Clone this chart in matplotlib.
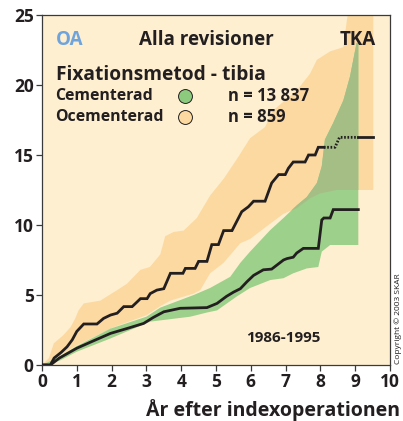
import matplotlib
matplotlib.use("Agg")
import matplotlib.pyplot as plt
import numpy as np

plt.rcParams['font.family'] = ['Open Sans', 'DejaVu Sans']

# Ocementerad (uncemented) - cumulative revision line
unc_x = [0, 0.24, 0.35, 0.55, 0.72, 0.87, 1.0, 1.2, 1.58, 1.77, 1.97, 2.16, 2.35, 2.59, 2.73, 2.83,
         3.02, 3.11, 3.3, 3.5, 3.69, 4.05, 4.12, 4.4, 4.5, 4.74, 4.88, 5.07, 5.22, 5.46, 5.74, 5.93,
         6.08, 6.41, 6.6, 6.8, 6.99, 7.08, 7.22, 7.56, 7.66, 7.85, 7.94, 8.1]
unc_y = [0, 0, 0.5, 0.9, 1.3, 1.8, 2.4, 2.93, 2.93, 3.33, 3.57, 3.7, 4.17, 4.17, 4.5, 4.74,
         4.74, 5.1, 5.35, 5.45, 6.55, 6.55, 6.9, 6.9, 7.4, 7.4, 8.6, 8.6, 9.6, 9.6, 10.95, 11.3,
         11.7, 11.7, 13.0, 13.6, 13.6, 14.05, 14.5, 14.5, 15.0, 15.0, 15.55, 15.55]
unc_dot_x = [8.1, 8.42, 8.55, 9.09]
unc_dot_y = [15.55, 15.55, 16.26, 16.26]
unc_end_x = [9.09, 9.52]
unc_end_y = [16.26, 16.26]

# Ocementerad confidence band
unc_up_x = [0, 0.2, 0.34, 0.6, 0.82, 0.95, 1.05, 1.2, 1.68, 1.87, 2.16, 2.44, 2.83, 3.1, 3.4, 3.54,
            3.78, 4.07, 4.45, 4.83, 5.22, 5.65, 5.98, 6.41, 6.65, 7.32, 7.7, 7.9, 8.28, 8.66, 8.76,
            8.85, 9.52]
unc_up_y = [0, 0.5, 1.55, 2.1, 2.7, 3.3, 3.9, 4.4, 4.6, 4.9, 5.35, 5.8, 6.8, 7.0, 7.9, 9.2,
            9.5, 9.6, 10.5, 12.1, 13.3, 14.9, 16.2, 17.0, 18.2, 19.6, 20.8, 21.8, 22.4, 22.7, 24.6,
            26.0, 26.0]
unc_lo_x = [0, 0.5, 1.0, 2.0, 3.0, 3.4, 3.69, 4.36, 4.55, 4.83, 5.22, 5.7, 5.98, 6.56, 6.94,
            7.32, 7.7, 7.99, 8.47, 9.52]
unc_lo_y = [0, 0.65, 1.4, 2.65, 3.55, 4.2, 4.6, 5.1, 5.35, 6.55, 7.3, 8.7, 9.0, 10.1, 10.8,
            11.2, 11.9, 12.26, 12.5, 12.5]

# Cementerad (cemented) line
cem_x = [0, 0.24, 0.5, 0.75, 1.0, 1.5, 1.97, 2.5, 2.92, 3.2, 3.5, 3.97, 4.74, 5.03, 5.3, 5.5,
         5.7, 5.89, 6.08, 6.36, 6.6, 6.94, 7.04, 7.22, 7.32, 7.51, 7.94, 8.04, 8.1, 8.28, 8.37, 9.09]
cem_y = [0, 0, 0.5, 0.85, 1.2, 1.75, 2.26, 2.65, 2.97, 3.4, 3.8, 4.05, 4.1, 4.4, 4.9, 5.2,
         5.45, 5.95, 6.4, 6.8, 6.85, 7.5, 7.6, 7.7, 8.0, 8.33, 8.33, 10.36, 10.5, 10.5, 11.1, 11.1]

# Cementerad confidence band
cem_up_x = [0, 0.5, 1, 1.97, 3.0, 3.4, 4.36, 4.83, 5.41, 5.7, 5.98, 6.56, 6.94, 7.32, 7.61,
            7.9, 8.04, 8.13, 8.37, 8.66, 8.85, 9.04, 9.09]
cem_up_y = [0, 0.6, 1.35, 2.6, 3.45, 4.1, 5.0, 5.5, 6.3, 7.3, 8.1, 9.64, 10.5, 11.4, 12.0,
            13.0, 14.2, 16.1, 17.3, 18.9, 20.6, 23.0, 23.0]
cem_lo_x = [0, 0.5, 1, 1.97, 3.11, 4.26, 4.74, 5.03, 5.6, 5.98, 6.56, 6.94, 7.22, 7.61, 7.94,
            8.04, 8.28, 9.09]
cem_lo_y = [0, 0.3, 0.95, 1.9, 3.1, 3.45, 3.75, 3.9, 4.9, 5.5, 6.07, 6.2, 6.55, 6.9, 7.0,
            8.1, 8.57, 8.57]

bg = '#FEEFD0'
orange = '#FDD9A2'
green = '#9DD08A'
olive = '#A5BE86'
ink = '#231F20'

fig = plt.figure(figsize=(4.03, 4.21), dpi=100)
ax = fig.add_axes([0.1042, 0.133, 0.8635, 0.8314])
ax.set_facecolor(bg)

unc_band = ax.fill(np.r_[unc_up_x, unc_lo_x[::-1]], np.r_[unc_up_y, unc_lo_y[::-1]],
                   color=orange, lw=0, zorder=1)[0]
cem_poly_x = np.r_[cem_up_x, cem_lo_x[::-1]]
cem_poly_y = np.r_[cem_up_y, cem_lo_y[::-1]]
ax.fill(cem_poly_x, cem_poly_y, color=green, lw=0, zorder=2)
overlap = ax.fill(cem_poly_x, cem_poly_y, color=olive, lw=0, zorder=3)[0]
overlap.set_clip_path(unc_band.get_path(), unc_band.get_transform())

ax.plot(unc_x, unc_y, color=ink, lw=2.0, zorder=5, solid_joinstyle='miter')
ax.plot(unc_dot_x, unc_dot_y, color=ink, lw=2.0, ls=(0, (0.6, 0.6)), zorder=5)
ax.plot(unc_end_x, unc_end_y, color=ink, lw=2.0, zorder=5)
ax.plot(cem_x, cem_y, color=ink, lw=2.0, zorder=5, solid_joinstyle='miter')

ax.set_xlim(0, 10)
ax.set_ylim(0, 25)
ax.set_xticks(range(0, 11))
ax.set_yticks(range(0, 26, 5))
for s in ax.spines.values():
    s.set_color('#3a3a3a')
    s.set_linewidth(0.9)
ax.tick_params(direction='out', length=4, width=0.9, color='#3a3a3a', labelcolor=ink,
               labelsize=12.5, pad=2)
for lab in ax.get_xticklabels() + ax.get_yticklabels():
    lab.set_fontweight('bold')
fig.text(400 / 403, 1 - 410 / 421, 'År efter indexoperationen', fontsize=14, fontweight='bold',
         color=ink, ha='right', va='center')

ax.text(0.39, 23.2, 'OA', color='#6FA3DC', fontsize=13.5, fontweight='bold', va='center')
ax.text(2.8, 23.2, 'Alla revisioner', color=ink, fontsize=13.5, fontweight='bold', va='center')
ax.text(9.6, 23.2, 'TKA', color=ink, fontsize=13.5, fontweight='bold', va='center', ha='right')
ax.text(0.39, 20.7, 'Fixationsmetod - tibia', color=ink, fontsize=13.8, fontweight='bold',
        va='center')
ax.text(0.39, 19.2, 'Cementerad', color=ink, fontsize=11.4, fontweight='bold', va='center')
ax.text(0.39, 17.7, 'Ocementerad', color=ink, fontsize=11.4, fontweight='bold', va='center')
ax.scatter([4.12], [19.2], s=100, color='#8CCB7E', edgecolor=ink, linewidth=0.7, zorder=6)
ax.scatter([4.12], [17.7], s=100, color=orange, edgecolor=ink, linewidth=0.7, zorder=6)
ax.text(5.35, 19.2, 'n = 13 837', color=ink, fontsize=12, fontweight='bold', va='center')
ax.text(5.35, 17.7, 'n = 859', color=ink, fontsize=12, fontweight='bold', va='center')
ax.text(6.93, 1.93, '1986-1995', color=ink, fontsize=11, fontweight='bold', va='center',
        ha='center')

fig.text(0.987, 0.135, 'Copyright © 2003 SKAR', rotation=90, fontsize=6, color=ink,
         ha='center', va='bottom')

fig.savefig('out.png', dpi=100, facecolor='white')
